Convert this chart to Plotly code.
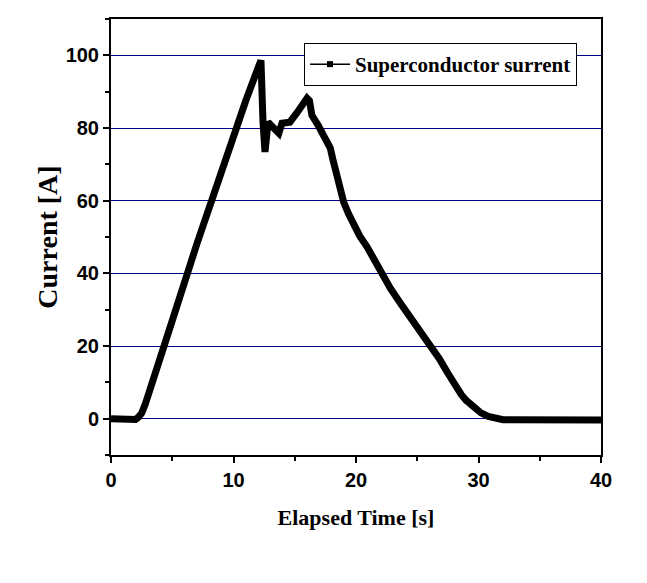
import plotly.graph_objects as go

# Elapsed time [s] and superconductor current [A]
time_s = [0.0, 1.0, 1.8, 2.0, 2.2, 2.5, 2.8, 3.1, 3.5, 5.0, 7.0, 9.0, 10.1, 11.0, 12.0, 12.24,
          12.41, 12.57, 12.82, 13.2, 13.7, 13.96, 14.6, 15.2, 15.6, 16.0, 16.2, 16.4, 16.9,
          17.3, 17.6, 17.9, 18.1, 18.3, 18.5, 18.6, 19.0, 19.4, 19.8, 20.3, 20.9, 21.5, 22.1,
          22.8, 23.6, 24.4, 25.2, 25.7, 26.2, 26.8, 27.5, 28.0, 28.6, 29.0, 29.5, 30.2, 30.8,
          31.5, 32.0, 40.0]
current_a = [0.0, 0.0, 0.1, -0.2, 0.3, 1.5, 4.0, 7.3, 11.0, 27.0, 48.0, 68.5, 79.5, 87.5, 96.5, 98.6,
             81.6, 73.4, 81.6, 80.0, 78.6, 81.3, 81.6, 84.3, 86.3, 88.2, 87.5, 83.5, 80.8,
             78.5, 76.8, 74.5, 71.5, 68.5, 65.7, 64.0, 59.5, 56.3, 53.3, 50.3, 47.3, 43.6, 39.8,
             35.9, 31.9, 28.1, 24.5, 22.2, 19.8, 16.5, 12.5, 9.6, 6.6, 5.0, 3.3, 1.6, 0.6,
             0.0, -0.3, -0.4]

series_name = "Superconductor surrent"
x_ticks = [0, 10, 20, 30, 40]
y_ticks = [0, 20, 40, 60, 80, 100]

fig = go.Figure()
fig.add_trace(go.Scatter(
    x=time_s, y=current_a, mode="lines",
    line=dict(color="black", width=7),
    showlegend=False, hoverinfo="x+y",
))
# legend entry (line with square marker, as in the reference legend)
fig.add_trace(go.Scatter(
    x=[None], y=[None], mode="lines+markers", name=series_name,
    line=dict(color="black", width=1.5),
    marker=dict(symbol="square", size=6, color="black"),
))

axis_common = dict(
    showline=True, linecolor="black", linewidth=2, mirror=True,
    ticks="outside", ticklen=6, tickwidth=2, tickcolor="black",
    tickfont=dict(family="Liberation Sans, Arial, sans-serif", size=20, color="black", weight="bold"),
    zeroline=False, automargin=False,
)

fig.update_xaxes(
    range=[0, 40], tickvals=x_ticks, showgrid=False,
    minor=dict(ticks="outside", ticklen=4, tickwidth=2, tickcolor="black", dtick=5, showgrid=False),
    title=dict(text="Elapsed Time [s]", standoff=20,
               font=dict(family="Liberation Serif, Times New Roman, serif", size=22, color="black", weight="bold")),
    **axis_common,
)
fig.update_yaxes(
    range=[-10, 110], tickvals=y_ticks, showgrid=True, gridcolor="#000080", gridwidth=1,
    minor=dict(ticks="outside", ticklen=4, tickwidth=2, tickcolor="black", dtick=10, tick0=0, showgrid=False),
    title=dict(text="Current [A]", standoff=0,
               font=dict(family="Liberation Serif, Times New Roman, serif", size=28, color="black", weight="bold")),
    **axis_common,
)

# page body adds an 8px offset, so margins are shifted to compensate
fig.update_layout(
    width=647, height=583,
    margin=dict(l=103, r=54, t=11, b=136),
    paper_bgcolor="white", plot_bgcolor="white",
    legend=dict(
        x=0.951, y=0.945, xanchor="right", yanchor="top",
        bgcolor="white", bordercolor="black", borderwidth=1,
        font=dict(family="Liberation Serif, Times New Roman, serif", size=21, color="black", weight="bold"),
        itemwidth=40,
    ),
)

fig.write_html("out.html")
